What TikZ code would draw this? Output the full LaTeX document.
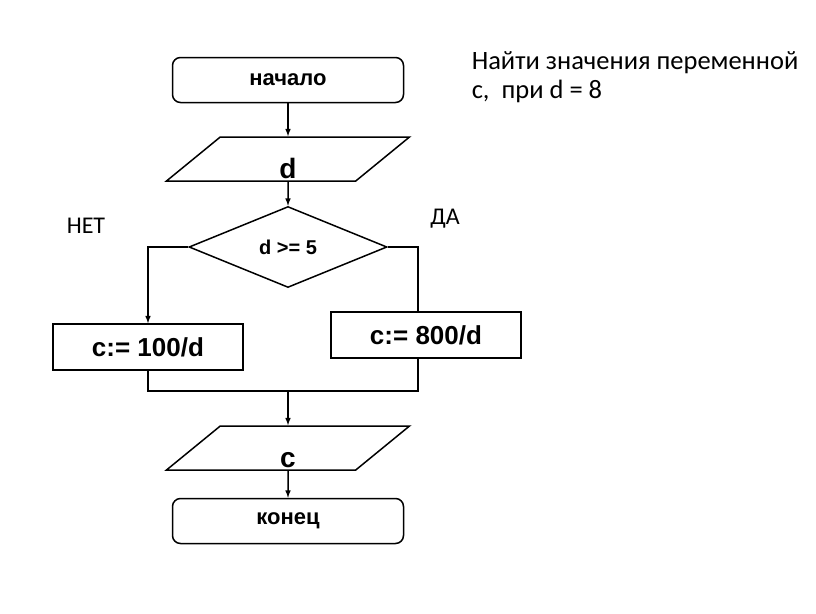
\documentclass[tikz,border=0pt]{standalone}
\usepackage{fontspec}
\setmainfont{Liberation Sans}
\newfontfamily\calfont{Carlito}
\usetikzlibrary{shapes.geometric}

\begin{document}
\begin{tikzpicture}[x=1pt, y=-1pt, line width=1.5pt, >=latex,
        term/.style={draw, rectangle, rounded corners=8pt, minimum width=231pt, minimum height=45pt, font=\bfseries\fontsize{22}{26}\selectfont},
        io/.style={draw, trapezium, trapezium left angle=38, trapezium right angle=142, trapezium stretches body=true, minimum width=243pt, minimum height=44pt, inner sep=2pt, text height=38pt, text depth=0pt, font=\bfseries\fontsize{28}{30}\selectfont},
        cond/.style={draw, diamond, minimum width=198pt, minimum height=81pt, inner sep=0pt, font=\bfseries\fontsize{20}{22}\selectfont},
        calc/.style={draw, rectangle, minimum width=190pt, minimum height=46pt, font=\bfseries\fontsize{26}{28}\selectfont},
        note/.style={font=\calfont\fontsize{24}{29}\selectfont}]
        \useasboundingbox (0,0) rectangle (816,613);

        % Nodes
        \node (start) [term] at (288,80) {начало};
        \node (in) [io, below of=start, node distance=79pt] {d};
        \node (dec) [cond, below of=in, node distance=88pt] {d >= 5};
        \node (no) [calc] at (148,347) {c:= 100/d};
        \node (yes) [calc] at (426,335) {c:= 800/d};
        \node (out) [io] at (288,448) {c};
        \node (end) [term, below of=out, node distance=73pt] {конец};
        \coordinate (join) at (288,391);

        \node (nolab) [note] at (86,226) {НЕТ};
        \node (yeslab) [note] at (445,219) {ДА};
        \node (task) [note, font=\calfont\fontsize{26.5}{29}\selectfont, anchor=north west, align=left, inner sep=0pt] at (471,51) {Найти значения переменной\\с,\ \ при d = 8};

        % Edges
        \draw[->] (start) -- (in);
        \draw[->] (in) -- (dec);
        \draw[->] (dec.west) -| (no.north);
        \draw (dec.east) -| ([xshift=-8pt]yes.north);
        \draw (no.south) |- (join);
        \draw ([xshift=-8pt]yes.south) |- (join);
        \draw[->] (join) -- (out);
        \draw[->] (out) -- (end);
    \end{tikzpicture}
\end{document}
